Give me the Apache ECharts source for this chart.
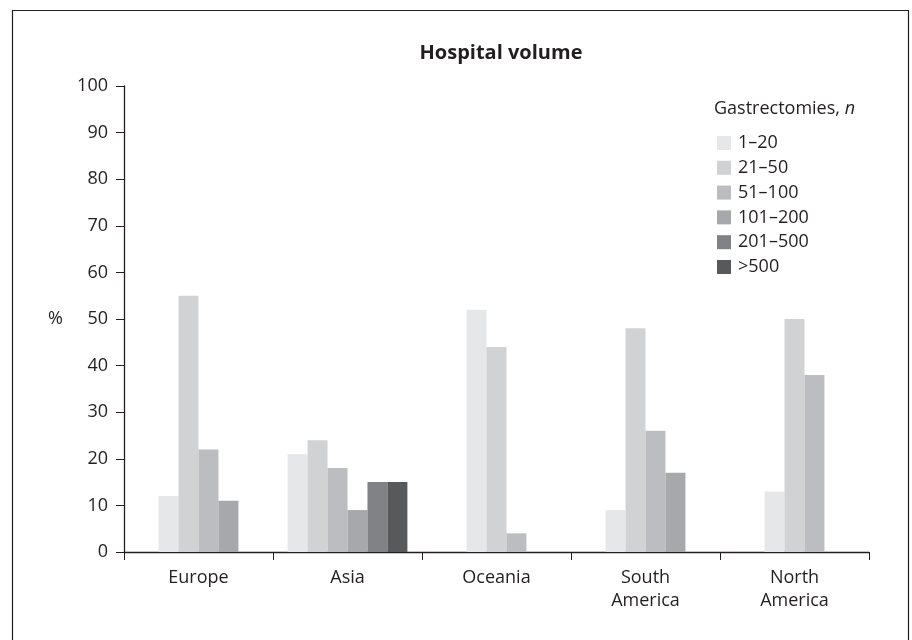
<!DOCTYPE html>
<html>
<head>
<meta charset="utf-8">
<script src="https://cdn.jsdelivr.net/npm/echarts@6/dist/echarts.min.js"></script>
<style>html,body{margin:0;padding:0;background:#fff;}#c{width:912px;height:640px;}</style>
</head>
<body>
<div id="c"></div>
<script>
const categories = ['Europe', 'Asia', 'Oceania', 'South\nAmerica', 'North\nAmerica'];
const seriesNames = ['1–20', '21–50', '51–100', '101–200', '201–500', '>500'];
const seriesColors = ['#e6e7e8', '#d1d2d4', '#bcbdc0', '#a7a8ab', '#808285', '#58595b'];
const v1to20 = [12, 21, 52, 9, 13];
const v21to50 = [55, 24, 44, 48, 50];
const v51to100 = [22, 18, 4, 26, 38];
const v101to200 = [11, 9, null, 17, null];
const v201to500 = [null, 15, null, null, null];
const vOver500 = [null, 15, null, null, null];
const yTicks = [0, 10, 20, 30, 40, 50, 60, 70, 80, 90, 100];

const allValues = [v1to20, v21to50, v51to100, v101to200, v201to500, vOver500];
const FONT = 'Open Sans';

function renderBar(params, api) {
  const si = params.seriesIndex;
  const cat = api.value(0);
  const val = api.value(1);
  const present = [];
  for (let k = 0; k < allValues.length; k++) {
    if (allValues[k][cat] != null) present.push(k);
  }
  const pos = present.indexOf(si);
  const n = present.length;
  const band = api.size([1, 0])[0];
  const bw = band * 0.134;
  const center = api.coord([cat, 0]);
  const top = api.coord([cat, val]);
  const x = center[0] - n * bw / 2 + pos * bw;
  return {
    type: 'rect',
    shape: { x: x, y: top[1], width: bw, height: center[1] - top[1] },
    style: { fill: seriesColors[si] }
  };
}

const series = allValues.map((arr, i) => ({
  name: seriesNames[i],
  type: 'custom',
  renderItem: renderBar,
  itemStyle: { color: seriesColors[i] },
  encode: { x: 0, y: 1 },
  data: arr.map((v, j) => v == null ? null : [j, v]).filter(d => d !== null)
}));

const chart = echarts.init(document.getElementById('c'));
chart.setOption({
  backgroundColor: '#fff',
  animation: false,
  title: {
    text: 'Hospital volume',
    left: 496, top: 38, textAlign: 'center',
    textStyle: { fontFamily: FONT, fontSize: 20, fontWeight: 'bold', color: '#231f20' }
  },
  legend: {
    orient: 'vertical',
    left: 712, top: 129,
    itemWidth: 14, itemHeight: 14, itemGap: 6.8,
    icon: 'rect',
    data: seriesNames,
    textStyle: { fontFamily: FONT, fontSize: 18, color: '#231f20', padding: [0, 0, 0, 2] }
  },
  grid: { left: 124, right: 43, top: 86, bottom: 88 },
  xAxis: {
    type: 'category',
    data: categories,
    boundaryGap: true,
    axisLine: { lineStyle: { color: '#231f20', width: 1.3 } },
    axisTick: { show: true, length: 8, alignWithLabel: false, lineStyle: { color: '#231f20' } },
    axisLabel: { fontFamily: FONT, fontSize: 18, color: '#231f20', margin: 14, lineHeight: 23 }
  },
  yAxis: {
    type: 'value',
    min: 0, max: 100, interval: 10,
    name: '%',
    nameLocation: 'middle',
    nameRotate: 0,
    nameGap: 61,
    nameTextStyle: { fontFamily: FONT, fontSize: 18, color: '#231f20' },
    splitLine: { show: false },
    axisLine: { show: true, lineStyle: { color: '#231f20', width: 1.3 } },
    axisTick: { show: true, length: 8, lineStyle: { color: '#231f20' } },
    axisLabel: { fontFamily: FONT, fontSize: 18, color: '#231f20', margin: 16,
      formatter: v => yTicks.indexOf(v) >= 0 ? String(v) : '' }
  },
  graphic: [
    {
      type: 'rect', left: 10, top: 8,
      shape: { width: 896, height: 640 },
      style: { fill: 'none', stroke: '#231f20', lineWidth: 1.2 }
    },
    {
      type: 'text', left: 714, top: 100,
      style: {
        text: '{a|Gastrectomies, }{b|n}',
        rich: {
          a: { fontFamily: FONT, fontSize: 18, fill: '#231f20' },
          b: { fontFamily: FONT, fontSize: 18, fontStyle: 'italic', fill: '#231f20' }
        }
      }
    }
  ],
  series: series
});
</script>
</body>
</html>
